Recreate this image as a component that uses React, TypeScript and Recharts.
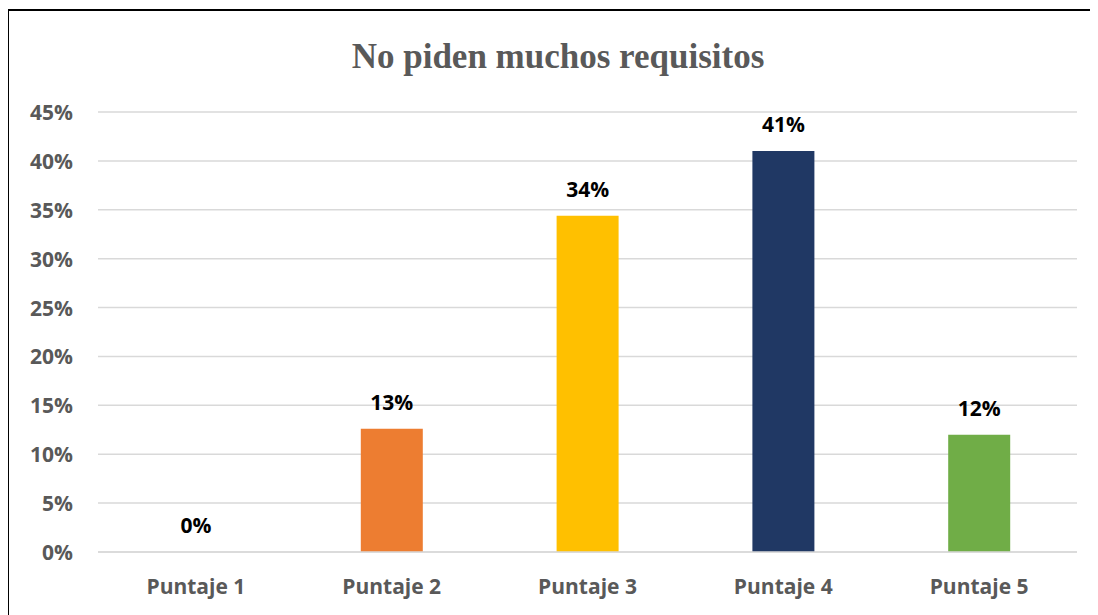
import { Bar, BarChart, CartesianGrid, Cell, LabelList, XAxis, YAxis } from 'recharts'

const categories = ['Puntaje 1', 'Puntaje 2', 'Puntaje 3', 'Puntaje 4', 'Puntaje 5']
const values = [0, 12.6, 34.4, 41.0, 12.0]
const barColors = ['#4472C4', '#ED7D31', '#FFC000', '#203864', '#70AD47']
const yTicks = [0, 5, 10, 15, 20, 25, 30, 35, 40, 45]

const data = categories.map((name, i) => ({ name, value: values[i] }))

const FONT = "'Open Sans', 'Noto Sans', sans-serif"

const XTick = (props: any) => {
  const { x, y, payload } = props
  return (
    <text x={x} y={y + 34} textAnchor="middle" fill="#595959" fontFamily={FONT} fontWeight={700} fontSize={21}>
      {payload.value}
    </text>
  )
}

const YTick = (props: any) => {
  const { x, y, payload } = props
  return (
    <text x={x} y={y + 8} textAnchor="end" fill="#595959" fontFamily={FONT} fontWeight={700} fontSize={21}>
      {payload.value}%
    </text>
  )
}

const TopLabel = (props: any) => {
  const { x, y, width, value } = props
  return (
    <text x={x + width / 2} y={y - 19} textAnchor="middle" fill="#000" fontFamily={FONT} fontWeight={700} fontSize={21}>
      {Math.round(value)}%
    </text>
  )
}

export default function App() {
  return (
    <div style={{ position: 'relative', width: 1098, height: 615, margin: '-8px 0 0 -8px', overflow: 'hidden', background: '#fff' }}>
      <div
        style={{
          position: 'absolute',
          left: 7,
          top: 9,
          width: 1200,
          height: 700,
          borderTop: '2px solid #000',
          borderLeft: '2px solid #000',
        }}
      />
      <div
        style={{
          position: 'absolute',
          left: 0,
          width: 1116,
          top: 39,
          lineHeight: '35px',
          textAlign: 'center',
          fontFamily: "'Liberation Serif', 'Times New Roman', serif",
          fontWeight: 700,
          fontSize: 35,
          color: '#595959',
        }}
      >
        No piden muchos requisitos
      </div>
      <div style={{ position: 'absolute', left: 0, top: 0 }}>
        <BarChart width={1098} height={615} data={data} margin={{ top: 112, right: 21, bottom: 33, left: 0 }}>
          <CartesianGrid vertical={false} stroke="#d9d9d9" strokeWidth={1.5} />
          <XAxis dataKey="name" axisLine={{ stroke: '#d9d9d9', strokeWidth: 1.5 }} tickLine={false} tick={<XTick />} interval={0} />
          <YAxis
            width={98}
            domain={[0, 45]}
            ticks={yTicks}
            axisLine={false}
            tickLine={false}
            tickSize={6}
            tickMargin={19}
            tick={<YTick />}
          />
          <Bar dataKey="value" barSize={62} minPointSize={0.01} isAnimationActive={false}>
            {data.map((_, i) => (
              <Cell key={i} fill={barColors[i]} />
            ))}
            <LabelList dataKey="value" content={<TopLabel />} />
          </Bar>
        </BarChart>
      </div>
    </div>
  )
}
